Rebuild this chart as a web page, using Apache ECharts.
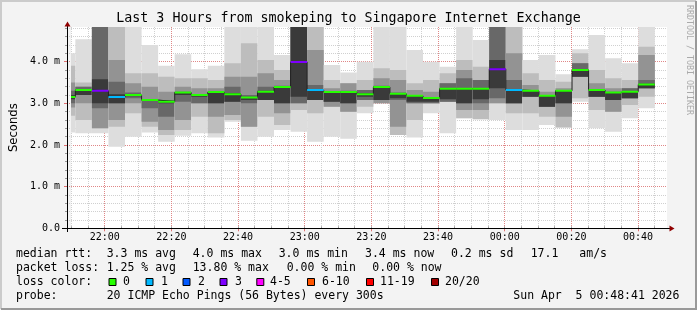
<!DOCTYPE html>
<html><head><meta charset="utf-8">
<script src="https://cdn.jsdelivr.net/npm/echarts@6/dist/echarts.min.js"></script>
<style>html,body{margin:0;padding:0;background:#f3f3f3;}#c{width:697px;height:310px;}</style>
</head><body><div id="c"></div>
<script>
// ---------------- DATA ----------------
const graphStart = '21:48:41';
const graphEnd = '00:48:41';
const barTimes = ['21:45','21:50','21:55','22:00','22:05','22:10','22:15','22:20','22:25','22:30','22:35','22:40',
  '22:45','22:50','22:55','23:00','23:05','23:10','23:15','23:20','23:25','23:30','23:35','23:40',
  '23:45','23:50','23:55','00:00','00:05','00:10','00:15','00:20','00:25','00:30','00:35','00:40'];
// median RTT (ms)
const median = [3.15,3.32,3.30,3.15,3.20,3.08,3.04,3.26,3.20,3.27,3.22,3.14,3.28,3.39,3.99,3.32,3.27,3.27,
  3.22,3.39,3.23,3.18,3.13,3.35,3.35,3.35,3.82,3.32,3.30,3.18,3.30,3.80,3.32,3.26,3.28,3.45];
// lost pings out of 20
const lossCount = [0,0,3,1,0,0,0,0,0,0,0,0,0,0,3,1,0,0,0,0,0,0,0,0,0,0,3,1,0,0,0,0,0,0,0,0];
// smoke band edges (ms), outer (1) to inner (5); null = above graph top
const up1 = [4.20,4.54,null,null,null,4.40,3.90,4.18,3.82,3.90,null,null,null,4.16,null,null,3.92,3.74,
  4.00,null,null,4.28,4.00,3.88,null,4.52,null,null,4.04,4.16,3.70,4.30,4.64,4.08,3.96,null];
const up2 = [3.90,3.50,null,null,3.72,3.72,3.64,3.60,3.60,3.56,3.96,4.44,4.04,3.80,null,null,3.56,3.48,
  3.56,3.84,3.80,3.48,3.56,3.72,4.04,3.88,null,null,3.72,3.56,3.52,4.20,3.80,3.60,3.56,4.36];
const up3 = [3.50,3.40,null,4.04,3.48,3.40,3.28,3.40,3.36,3.36,3.64,3.64,3.72,3.56,null,4.28,3.36,3.48,
  3.32,3.60,3.56,3.32,3.28,3.48,3.80,3.56,null,4.20,3.44,3.28,3.36,3.96,3.48,3.36,3.36,4.16];
const up4 = [3.30,3.40,null,3.52,3.26,3.10,3.08,3.28,3.22,3.28,3.40,3.20,3.40,3.42,null,3.44,3.29,3.30,
  3.32,3.42,3.26,3.20,3.15,3.48,3.60,3.56,null,3.56,3.32,3.20,3.31,3.96,3.34,3.28,3.36,3.56];
const up5 = [3.20,3.34,3.58,3.22,3.22,3.09,3.06,3.27,3.21,3.28,3.25,3.16,3.30,3.40,null,3.34,3.28,3.28,
  3.24,3.41,3.25,3.19,3.14,3.37,3.37,3.37,4.04,3.34,3.31,3.19,3.31,3.82,3.33,3.27,3.29,3.47];
const lo5 = [3.10,3.20,3.00,3.00,3.17,3.06,3.00,3.20,3.16,3.00,3.04,3.08,3.08,3.00,3.16,3.08,3.04,3.00,
  3.16,3.08,3.12,3.04,3.04,3.10,3.00,3.10,3.36,3.00,3.16,2.92,3.00,3.64,3.16,3.08,3.12,3.36];
const lo4 = [3.00,3.20,2.88,3.00,3.12,2.88,2.68,3.04,3.00,3.00,3.04,3.00,3.08,3.00,3.00,3.08,3.04,3.00,
  3.08,3.08,3.08,3.00,3.00,3.04,3.00,3.00,3.12,3.00,3.16,2.92,3.00,3.64,3.16,3.08,3.12,3.36];
const lo3 = [2.90,3.00,2.40,2.60,3.00,2.56,2.36,2.60,3.00,2.68,2.72,2.44,3.08,2.76,3.00,3.08,2.92,2.80,
  3.08,3.00,2.44,3.00,3.00,3.04,2.84,2.84,3.00,3.00,3.16,2.92,2.68,3.64,3.16,2.80,3.12,3.36];
const lo2 = [2.70,2.60,2.40,2.44,2.76,2.44,2.24,2.36,2.68,2.28,2.60,2.44,2.68,2.48,2.84,2.76,2.92,2.80,
  2.92,3.00,2.24,2.60,3.00,3.04,2.64,2.62,3.00,2.76,2.76,2.68,2.42,3.12,2.84,2.80,2.96,3.16];
const lo1 = [2.30,2.28,2.28,1.96,2.20,2.30,2.08,2.22,2.28,2.18,2.56,2.10,2.20,2.36,2.32,2.08,2.20,2.15,
  2.76,3.00,2.24,2.18,2.76,2.28,2.64,2.62,2.60,2.36,2.36,2.48,2.42,3.04,2.40,2.32,2.64,2.88];
// axis ticks
const yTickLabels = ['0.0','1.0 m','2.0 m','3.0 m','4.0 m'];
// legend texts
const titleText = 'Last 3 Hours from smokeping to Singapore Internet Exchange';
const rttStats = ['3.3 ms avg','4.0 ms max','3.0 ms min','3.4 ms now','0.2 ms sd','17.1','am/s'];
const lossStats = ['1.25 % avg','13.80 % max','0.00 % min','0.00 % now'];
const lossLabels = ['0','1','2','3','4-5','6-10','11-19','20/20'];
const lossColors = ['#26ff00','#00b8ff','#0059ff','#7e00ff','#ff00ff','#ff5500','#ff0000','#a10000'];
const probeText = '20 ICMP Echo Pings (56 Bytes) every 300s';
const dateText = 'Sun Apr  5 00:48:41 2026';

// ---------------- LAYOUT ----------------
function toMin(s){ const p=s.split(':').map(Number); let h=p[0]; if(h<12) h+=24; return h*60+p[1]+(p[2]||0)/60; }
function fmtMin(v){ const h=Math.floor(v/60)%24, m=Math.round(v%60); return String(h).padStart(2,'0')+':'+String(m).padStart(2,'0'); }
function lossColor(n){ if(n<=0) return lossColors[0]; if(n<=3) return lossColors[n]; if(n<=5) return lossColors[4]; if(n<=10) return lossColors[5]; if(n<=19) return lossColors[6]; return lossColors[7]; }
const t0 = toMin(graphStart), t1 = toMin(graphEnd);
const PL=67, PT=27, PW=600, PB=228.3, YMAX=4.833;
const pxMin = PW/(t1-t0), pxMs = (PB-PT)/YMAX;
function gX(a,b){ return {left:PL+(a-t0)*pxMin, width:(b-a)*pxMin, top:PT, height:PB-PT}; }
function gY(a,b){ return {left:PL, width:PW, top:PB-b*pxMs, height:(b-a)*pxMs}; }
const MONO = '"DejaVu Sans Mono", monospace';
const bandColors = ['#dddddd','#bdbdbd','#939393','#686868','#3a3a3a'];
const ups=[up1,up2,up3,up4,up5], los=[lo1,lo2,lo3,lo4,lo5];

const barData = barTimes.map((t,i)=>[Math.max(toMin(t),t0), toMin(t)+5, median[i], lossCount[i]]);
const stepData = barData.map(d=>[d[0], d[2]]);
stepData.push([barData[barData.length-1][1], median[median.length-1]]);

const minorX = [toMin('21:50'), toMin('00:45')];
const majorX = [toMin('22:00'), toMin('00:40')];

const gridLineMinor = {color:'#d0d0d0', type:[1,1], width:1};
const gridLineMajor = {color:'rgba(255,0,0,0.35)', type:[1,1], width:1};

// ---------------- GRAPHIC ----------------
const txt = (x,y,t,extra)=>Object.assign({type:'text', x, y, silent:true, style:Object.assign({text:t, fill:'#000', font:'11.5px '+MONO, align:'left', verticalAlign:'middle'}, extra||{})});
const graphics = [];
graphics.push({type:'polyline', shape:{points:[[1,309],[1,1],[696,1]]}, style:{stroke:'#cbcbcb', lineWidth:2, fill:null}, silent:true});
graphics.push({type:'polyline', shape:{points:[[1,309],[696,309],[696,1]]}, style:{stroke:'#999999', lineWidth:2, fill:null}, silent:true});
graphics.push(txt(348.5,19,titleText,{font:'13.3px '+MONO, align:'center'}));
graphics.push(Object.assign(txt(689,5,'RRDTOOL / TOBI OETIKER',{font:'8.3px '+MONO, fill:'#aaaaaa'}),{rotation:-Math.PI/2}));
// axis extensions and arrows
graphics.push({type:'line', shape:{x1:62, y1:228.5, x2:670, y2:228.5}, style:{stroke:'#000', lineWidth:1}, silent:true, z:10});
graphics.push({type:'line', shape:{x1:67.5, y1:232, x2:67.5, y2:25}, style:{stroke:'#000', lineWidth:1}, silent:true, z:10});
graphics.push({type:'polygon', shape:{points:[[67.5,21.5],[64.5,26.5],[70.5,26.5]]}, style:{fill:'#900000'}, silent:true, z:10});
graphics.push({type:'polygon', shape:{points:[[674.5,228.5],[669.5,225.5],[669.5,231.5]]}, style:{fill:'#900000'}, silent:true, z:10});
// legend lines
const L1=254.3, L2=267.7, L3=281.7, L4=296;
graphics.push(txt(16,L1,'median rtt:'));
[106.7,192.7,278.7,365,451,530.7,579.3].forEach((x,i)=>graphics.push(txt(x,L1,rttStats[i])));
graphics.push(txt(16,L2,'packet loss:'));
[106.7,192.7,286.7,372.3].forEach((x,i)=>graphics.push(txt(x,L2,lossStats[i])));
graphics.push(txt(16,L3,'loss color:'));
const boxX=[108.5,145.5,182.5,219.5,256.3,307,366,431], labX=[123,161,198,235,270,322,380,445];
lossLabels.forEach((l,i)=>{
  graphics.push({type:'rect', shape:{x:boxX[i]+0.5, y:278.5, width:7, height:7}, style:{fill:lossColors[i], stroke:'#000', lineWidth:1}, silent:true});
  graphics.push(txt(labX[i],L3,l));
});
graphics.push(txt(16,L4,'probe:'));
graphics.push(txt(106.7,L4,probeText));
graphics.push(txt(513.3,L4,dateText));

// ---------------- OPTION ----------------
const hid = (gi)=>({gridIndex:gi, type:'value', show:false, min:0, max:1});
const option = {
  animation:false,
  backgroundColor:'#f3f3f3',
  grid:[
    {left:PL, top:PT, width:PW, height:PB-PT, show:true, backgroundColor:'#ffffff', borderWidth:0},
    Object.assign(gX(minorX[0],minorX[1]),{show:false}),
    Object.assign(gX(majorX[0],majorX[1]),{show:false}),
    Object.assign(gY(0,4.8),{show:false}),
    Object.assign(gY(0,4),{show:false})
  ],
  xAxis:[
    {gridIndex:0, type:'value', min:t0, max:t1, axisLine:{show:false}, axisTick:{show:false}, axisLabel:{show:false}, splitLine:{show:false}},
    {gridIndex:1, type:'value', min:minorX[0], max:minorX[1], interval:5, axisLine:{show:false}, axisTick:{show:true, inside:true, length:2, lineStyle:{color:'#999'}}, axisLabel:{show:false}, splitLine:{show:true, lineStyle:gridLineMinor}},
    {gridIndex:2, type:'value', min:majorX[0], max:majorX[1], interval:20, axisLine:{show:false}, axisTick:{show:true, length:3, lineStyle:{color:'#e07070'}},
      axisLabel:{show:true, formatter:fmtMin, fontFamily:MONO, fontSize:10, color:'#000', margin:4}, splitLine:{show:true, lineStyle:gridLineMajor}},
    hid(3), hid(4)
  ],
  yAxis:[
    {gridIndex:0, type:'value', min:0, max:YMAX, axisLine:{show:false}, axisTick:{show:false}, axisLabel:{show:false}, splitLine:{show:false},
      name:'Seconds', nameLocation:'middle', nameGap:51, nameTextStyle:{fontFamily:'"DejaVu Sans", sans-serif', fontSize:11.6, color:'#000'}},
    hid(1), hid(2),
    {gridIndex:3, type:'value', min:0, max:4.8, interval:0.2, axisLine:{show:false}, axisTick:{show:true, length:2, lineStyle:{color:'#999'}}, axisLabel:{show:false}, splitLine:{show:true, lineStyle:gridLineMinor}},
    {gridIndex:4, type:'value', min:0, max:4, interval:1, axisLine:{show:false}, axisTick:{show:true, length:3, lineStyle:{color:'#e07070'}},
      axisLabel:{show:true, formatter:(v)=>yTickLabels[Math.round(v)], fontFamily:MONO, fontSize:10, color:'#000', margin:7}, splitLine:{show:true, lineStyle:gridLineMajor}}
  ],
  series:[
    {type:'custom', xAxisIndex:0, yAxisIndex:0, clip:true, z:2, data:barData, encode:{x:[0,1], y:2},
      renderItem:(params, api)=>{
        const i = params.dataIndex;
        const xa = api.coord([api.value(0),0])[0], xb = api.coord([api.value(1),0])[0];
        const children=[];
        for(let k=0;k<5;k++){
          const hi = ups[k][i]==null ? YMAX : ups[k][i];
          const lo = los[k][i];
          const yt = api.coord([api.value(0),hi])[1], yb = api.coord([api.value(0),lo])[1];
          children.push({type:'rect', shape:{x:xa, y:yt, width:xb-xa, height:yb-yt}, style:{fill:bandColors[k]}});
        }
        return {type:'group', children};
      }},
    {type:'line', xAxisIndex:0, yAxisIndex:0, z:3, step:'end', data:stepData, symbol:'none', lineStyle:{color:'#202020', width:1}},
    {type:'custom', xAxisIndex:0, yAxisIndex:0, clip:true, z:4, data:barData, encode:{x:[0,1], y:2},
      renderItem:(params, api)=>{
        const xa = api.coord([api.value(0),0])[0], xb = api.coord([api.value(1),0])[0];
        const y = api.coord([api.value(0),api.value(2)])[1];
        return {type:'rect', shape:{x:xa, y:y-1, width:xb-xa, height:2}, style:{fill:lossColor(api.value(3))}};
      }}
  ],
  graphic:graphics
};
const chart = echarts.init(document.getElementById('c'), null, {width:697, height:310});
chart.setOption(option);
</script></body></html>
